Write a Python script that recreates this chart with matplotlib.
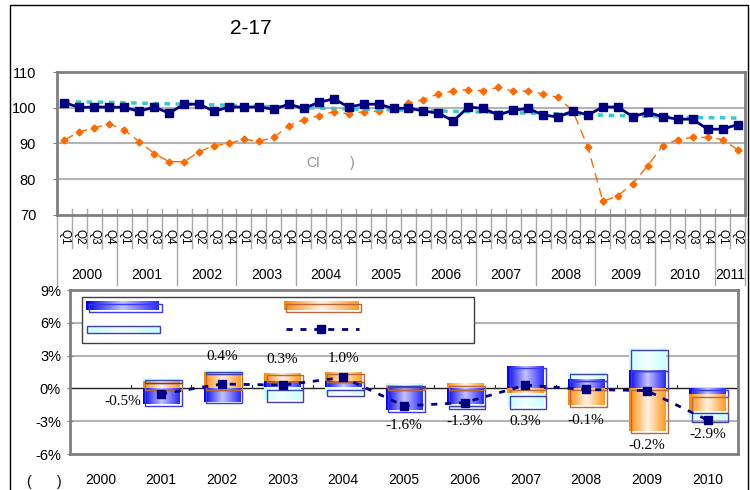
import numpy as np
import matplotlib
matplotlib.use("Agg")
import matplotlib.pyplot as plt
from matplotlib.colors import LinearSegmentedColormap
from matplotlib.patches import Rectangle

plt.rcParams['font.family'] = ['Liberation Sans Narrow', 'Liberation Sans', 'DejaVu Sans']

# top panel: quarterly index, 2000 Q1 .. 2011 Q2
q_years = ['2000', '2001', '2002', '2003', '2004', '2005', '2006',
           '2007', '2008', '2009', '2010', '2011']
quarters = ['Q1', 'Q2', 'Q3', 'Q4'] * 11 + ['Q1', 'Q2']
ci_main = [101.4, 100.1, 100.2, 100.2, 100.1, 99.0, 100.2, 98.5, 101.0, 101.0,
           99.0, 100.2, 100.2, 100.2, 99.6, 101.0, 99.8, 101.5, 102.5, 100.2,
           101.0, 101.0, 99.8, 99.9, 99.1, 98.5, 96.3, 100.2, 99.8, 98.0,
           99.3, 99.8, 98.0, 97.4, 99.1, 98.0, 100.2, 100.2, 97.5, 98.7,
           97.5, 96.8, 96.8, 94.0, 94.0, 95.3]
ci_trend = [101.7, 101.6, 101.6, 101.5, 101.4, 101.3, 101.2, 101.1, 101.0, 100.9,
            100.8, 100.7, 100.6, 100.4, 100.3, 100.2, 100.0, 99.9, 99.8, 99.7,
            99.6, 99.5, 99.4, 99.3, 99.2, 99.1, 99.0, 98.9, 98.8, 98.7,
            98.6, 98.5, 98.4, 98.3, 98.2, 98.1, 97.9, 97.8, 97.7, 97.6,
            97.5, 97.4, 97.3, 97.2, 97.2, 97.1]
ci_other = [91.0, 93.3, 94.4, 95.5, 93.8, 90.5, 87.2, 84.9, 84.9, 87.7,
            89.4, 90.0, 91.2, 90.6, 91.7, 95.0, 96.7, 97.8, 98.9, 98.3,
            98.9, 99.0, 99.8, 101.2, 102.3, 103.9, 104.7, 105.1, 104.7, 105.7,
            104.7, 104.6, 103.9, 102.9, 99.0, 88.9, 73.8, 75.4, 78.8, 83.8,
            89.4, 91.1, 91.7, 91.7, 91.1, 88.3]

# bottom panel: yearly contributions (%)
bar_years = ['2000', '2001', '2002', '2003', '2004', '2005', '2006',
             '2007', '2008', '2009', '2010']
part_blue = [np.nan, -1.45, -1.2, 0.7, 0.7, -2.0, -1.5, 2.0, 0.85, 1.7, -0.6]
part_orange = [np.nan, 0.65, 1.5, 0.7, 0.8, 0.3, 0.4, -0.5, -1.55, -3.9, -1.5]
part_cyan = [np.nan, 0.25, 0.15, -1.1, -0.55, 0.1, -0.2, -1.2, 0.6, 2.0, -0.8]
total = [np.nan, -0.5, 0.4, 0.3, 1.0, -1.6, -1.3, 0.3, -0.1, -0.2, -2.9]

navy = '#000080'
grid_c = '#B4B4B4'
frame_c = '#808080'

cm_blue = LinearSegmentedColormap.from_list('b', ['#0000E8', '#C4C4FF', '#2A2AFF'])
cm_orange = LinearSegmentedColormap.from_list('o', ['#FF8A00', '#FFF2E6', '#FF9A20'])
cm_cyan = LinearSegmentedColormap.from_list('c', ['#C8FFFF', '#F2FFFF', '#C8FFFF'])
edges = {'b': '#3838FF', 'o': '#B8683A', 'c': '#4040B0'}

fig = plt.figure(figsize=(7.5, 4.9), dpi=100)
fig.add_artist(Rectangle((10 / 750, -0.02), 738 / 750, 1.01, transform=fig.transFigure,
                         fill=False, edgecolor='black', lw=1))
fig.text(251 / 750, 1 - 28 / 490, '2-17', fontsize=15, ha='center', va='center')

# ---------------- top panel
ax = fig.add_axes([57 / 750, 1 - 215 / 490, 688 / 750, 143 / 490])
x = np.arange(len(ci_main))
ax.plot(x, ci_other, color='#FF6A00', lw=1, ls=(0, (7, 4)), marker='D', ms=3.5, zorder=3)
ax.plot(x, ci_trend, color='#33CCCC', lw=2.5, ls=(0, (1.6, 1.6)), zorder=4)
ax.plot(x, ci_main, color=navy, lw=2, marker='s', ms=5.5, zorder=5)
ax.set_xlim(-0.5, len(x) - 0.5)
ax.set_ylim(70, 110)
ax.set_yticks([70, 80, 90, 100, 110])
ax.tick_params(axis='y', labelsize=10.5, length=3, pad=12, color=frame_c)
ax.set_xticks([])
for v in [80, 90, 100]:
    ax.axhline(v, color=grid_c, lw=1.5, zorder=1)
for s in ax.spines.values():
    s.set_color(frame_c)
    s.set_linewidth(2)
fig.text(306 / 750, 1 - 163 / 490, 'CI', fontsize=10, color='#909090', va='center')
fig.text(350 / 750, 1 - 163 / 490, ')', fontsize=10, color='#909090', va='center')

tr = ax.get_xaxis_transform()
bounds = np.arange(len(x) + 1) - 0.5
for k, b in enumerate(bounds):
    if k % 4 == 0 or k == len(x):
        ax.plot([b, b], [0.04, -0.49], transform=tr, color='#A8A8A8', lw=1, clip_on=False)
    else:
        ax.plot([b, b], [0.04, -0.23], transform=tr, color='#A8A8A8', lw=1, clip_on=False)
for i, q in enumerate(quarters):
    ax.text(i, -0.1, q, transform=tr, rotation=270, ha='center', va='top', fontsize=8.5)
for j, yr in enumerate(q_years):
    first = 4 * j
    last = min(4 * j + 3, len(x) - 1)
    ax.text((first + last) / 2, -0.42, yr, transform=tr, ha='center', va='center',
            fontsize=10)

# ---------------- bottom panel
bx = fig.add_axes([70 / 750, 1 - 454 / 490, 668 / 750, 164 / 490])
for v in [-3, 3, 6]:
    bx.axhline(v, color=grid_c, lw=1.5, zorder=0)
bx.axhline(0, color='#202020', lw=1, zorder=2)
for b in np.arange(len(bar_years) - 1) + 0.5:
    bx.plot([b, b], [0, 0.3], color='#303030', lw=0.8, zorder=2)


def grad_rect(axis, x0, x1, y0, y1, cmap, edge, z, transform=None, dx=0.0, dy=0.0):
    grad = np.linspace(0, 1, 64).reshape(1, -1)
    lo, hi = min(y0, y1), max(y0, y1)
    kw = {} if transform is None else {'transform': transform}
    axis.imshow(grad, extent=(x0, x1, lo, hi), cmap=cmap, aspect='auto', zorder=z,
                interpolation='bilinear', origin='lower', **kw)
    axis.add_patch(Rectangle((x0 + dx, lo - dy), x1 - x0, hi - lo, fill=False,
                             edgecolor=edge, lw=1, zorder=z + 0.1, **kw))


w = 0.6
pos_top = []
neg_bot = []
for i in range(len(bar_years)):
    if np.isnan(total[i]):
        pos_top.append(np.nan)
        neg_bot.append(np.nan)
        continue
    up, down = 0.0, 0.0
    for val, cm, key, z in [(part_blue[i], cm_blue, 'b', 3),
                            (part_orange[i], cm_orange, 'o', 3.2),
                            (part_cyan[i], cm_cyan, 'c', 3.4)]:
        if val >= 0:
            grad_rect(bx, i - w / 2, i + w / 2, up, up + val, cm, edges[key], z,
                      dx=0.04, dy=0.15)
            up += val
        else:
            grad_rect(bx, i - w / 2, i + w / 2, down, down + val, cm, edges[key], z,
                      dx=0.04, dy=0.15)
            down += val
    pos_top.append(up)
    neg_bot.append(down)

xb = np.arange(len(bar_years))
bx.plot(xb, total, color=navy, lw=2, ls=(0, (2.2, 2.8)), marker='s', ms=6, zorder=6)

above = {'2002', '2003', '2004'}
for i, yr in enumerate(bar_years):
    if np.isnan(total[i]):
        continue
    txt = '%.1f%%' % total[i]
    if i == 1:
        bx.annotate(txt, (i - w / 2, neg_bot[i]), xytext=(-1, 2), textcoords='offset points',
                    ha='right', va='center', fontsize=11, family='Liberation Serif')
    elif yr in above:
        bx.annotate(txt, (i, pos_top[i]), xytext=(0, 5), textcoords='offset points',
                    ha='center', va='bottom', fontsize=11, family='Liberation Serif')
    else:
        bx.annotate(txt, (i, neg_bot[i]), xytext=(0, -6), textcoords='offset points',
                    ha='center', va='top', fontsize=11, family='Liberation Serif')

# legend box (labels not rendered in the source)
ta = bx.transAxes
bx.add_patch(Rectangle((0.018, 0.677), 0.587, 0.28, transform=ta, fill=True, facecolor='white',
                       edgecolor='#404040', lw=1, zorder=7))
grad_rect(bx, 0.024, 0.133, 0.878, 0.927, cm_blue, edges['b'], 8, transform=ta,
          dx=0.004, dy=0.012)
grad_rect(bx, 0.320, 0.431, 0.878, 0.927, cm_orange, edges['o'], 8, transform=ta,
          dx=0.004, dy=0.012)
grad_rect(bx, 0.026, 0.135, 0.738, 0.780, cm_cyan, edges['c'], 8, transform=ta,
          dx=0.0, dy=0.0)
bx.plot([0.323, 0.432], [0.762, 0.762], transform=ta, color=navy, lw=2,
        ls=(0, (2.2, 2.8)), zorder=8)
bx.plot([0.375], [0.762], transform=ta, color=navy, marker='s', ms=6, zorder=9)

bx.set_xlim(-0.5, len(bar_years) - 0.5)
bx.set_ylim(-6, 9)
bx.set_yticks([-6, -3, 0, 3, 6, 9])
bx.set_yticklabels(['%d%%' % v for v in [-6, -3, 0, 3, 6, 9]])
bx.tick_params(axis='y', labelsize=10.5, length=5, direction='inout', pad=4, color=frame_c)
bx.set_xticks(xb)
bx.set_xticklabels(bar_years)
bx.tick_params(axis='x', labelsize=10, length=0, pad=14)
for s in bx.spines.values():
    s.set_color(frame_c)
    s.set_linewidth(2)

fig.text(26 / 750, 1 - 482 / 490, '(', fontsize=10, va='center')
fig.text(57 / 750, 1 - 482 / 490, ')', fontsize=10, va='center')

fig.savefig('out.png', dpi=100)
